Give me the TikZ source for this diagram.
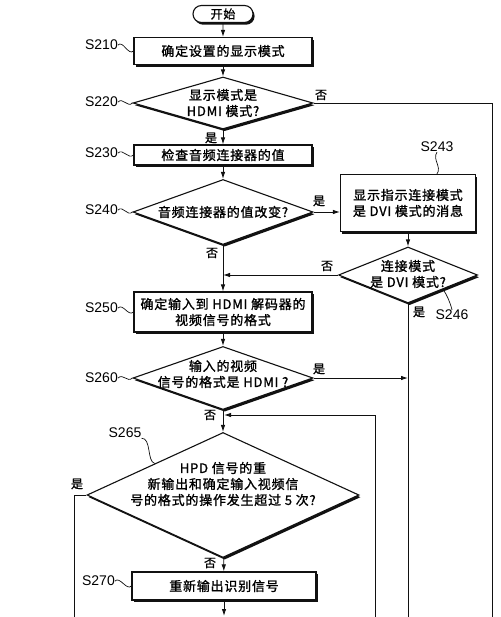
\documentclass[tikz,border=0pt]{standalone}
\usepackage{fontspec}
\setsansfont{Liberation Sans}
\newfontfamily\cjk{Noto Sans CJK SC}[LetterSpace=6, FakeBold=1.2]
\usepackage{tikz}
\usetikzlibrary{shapes.geometric,shapes.misc,arrows.meta,shadows}
\definecolor{ink}{HTML}{111111}
\definecolor{paper}{HTML}{FFFFFF}
\tikzset{
  shade/.style={drop shadow={shadow xshift=1.6pt, shadow yshift=-2.2pt, fill=ink, opacity=1}},
  box/.style={draw=ink, fill=paper, line width=1.1pt, shade, inner sep=0pt, align=center,
    font=\cjk\fontsize{13}{16}\selectfont},
  dia/.style={diamond, draw=ink, fill=paper, line width=1.1pt, shade, inner sep=0pt},
  dtext/.style={align=center, inner sep=0pt, font=\cjk\fontsize{13}{16}\selectfont},
  term/.style={rounded rectangle, draw=ink, fill=paper, line width=1.1pt, shade,
    minimum width=60pt, minimum height=17pt, inner sep=0pt, font=\cjk\fontsize{12}{14}\selectfont},
  flow/.style={draw=ink, line width=0.9pt},
  arr/.style={flow, -{Latex[length=7pt,width=4.5pt]}},
  yn/.style={inner sep=0pt, font=\cjk\fontsize{12}{14}\selectfont},
  steplab/.style={inner sep=0pt, font=\sffamily\fontsize{14}{14}\selectfont},
  squig/.style={draw=ink, line width=0.7pt}
}
\begin{document}
\begin{tikzpicture}[x=1pt, y=-1pt]
  \useasboundingbox[fill=paper] (0,0) rectangle (500,617);

  % main column
  \node[term] (start) at (223,14) {开始};
  \node[box, minimum width=178pt, minimum height=27pt] (s210) at (223,51) {确定设置的显示模式};
  \node[dia, minimum width=180pt, minimum height=52pt] (s220) at (223,103)
    {}; \node[dtext] (t220) at (s220) {显示模式是\\HDMI 模式?};
  \node[box, minimum width=178pt, minimum height=20pt] (s230) at (223,155) {检查音频连接器的值};
  \node[dia, minimum width=180pt, minimum height=65pt] (s240) at (223,212) {};
  \node[dtext] (t240) at (s240) {音频连接器的值改变?};
  \node[box, minimum width=178pt, minimum height=40pt] (s250) at (223,312)
    {确定输入到 HDMI 解码器的\\视频信号的格式};
  \node[dia, minimum width=180pt, minimum height=63pt] (s260) at (223,378) {};
  \node[dtext] (t260) at (223,374) {输入的视频\\信号的格式是 HDMI ?};
  \node[dia, minimum width=272pt, minimum height=125pt] (s265) at (223,495) {};
  \node[dtext] (t265) at (223,484) {HPD 信号的重\\新输出和确定输入视频信\\号的格式的操作发生超过 5 次?};
  \node[box, minimum width=184pt, minimum height=28pt] (s270) at (224,586) {重新输出识别信号};

  % right column
  \node[box, minimum width=135pt, minimum height=57pt] (s243) at (408,203)
    {显示指示连接模式\\是 DVI 模式的消息};
  \node[dia, minimum width=139pt, minimum height=56pt] (s246) at (408,275) {};
  \node[dtext] (t246) at (408,274) {连接模式\\是 DVI 模式?};

  % step labels
  \node[steplab, anchor=east] (l210) at (118,45) {S210};
  \node[steplab, anchor=east] (l220) at (118,102) {S220};
  \node[steplab, anchor=east] (l230) at (118,153) {S230};
  \node[steplab, anchor=east] (l240) at (118,210) {S240};
  \node[steplab, anchor=east] (l250) at (118,308) {S250};
  \node[steplab, anchor=east] (l260) at (118,378) {S260};
  \node[steplab, anchor=east] (l270) at (115,581) {S270};
  \node[steplab] (l243) at (437,147) {S243};
  \node[steplab] (l246) at (452,315) {S246};
  \node[steplab] (l265) at (125,433) {S265};

  \draw[squig] (l210.east) .. controls +(5,-5) and +(-5,5) .. (s210.west);
  \draw[squig] (l220.east) .. controls +(5,-5) and +(-5,5) .. (s220.west);
  \draw[squig] (l230.east) .. controls +(5,-5) and +(-5,5) .. (s230.west);
  \draw[squig] (l240.east) .. controls +(5,-5) and +(-5,5) .. (s240.west);
  \draw[squig] (l250.east) .. controls +(5,-5) and +(-5,5) .. (s250.west);
  \draw[squig] (l260.east) .. controls +(5,-5) and +(-5,5) .. (s260.west);
  \draw[squig] (l270.east) .. controls +(5,-5) and +(-5,5) .. (s270.west);
  \draw[squig] (l243.south) .. controls +(-5,7) and +(5,-7) .. (s243.north -| l243.south);
  \draw[squig] (l246.north) .. controls +(-2,-8) and +(4,6) .. (s246.south east);
  \draw[squig] (l265.south east) .. controls +(10,0) and +(-8,-2) .. (s265.north west);

  % free ends at the cut edge
  \coordinate (bR) at (492,617);
  \coordinate (bM) at (408,617);
  \coordinate (bL) at (375,617);
  \coordinate (bY) at (74,617);
  \coordinate (bZ) at (224,616);
  \coordinate (merge) at (224,415);

  % connectors
  \draw[arr] (start) -- (s210);
  \draw[arr] (s210) -- (s220);
  \draw[arr] (s220) -- (s230);
  \draw[arr] (s230) -- (s240);
  \draw[arr] (s240) -- (s250);
  \draw[arr] (s250) -- (s260);
  \draw[arr] (s260) -- (s265);
  \draw[arr] (s265) -- (s270);
  \draw[arr] (s270) -- (bZ);
  \draw[arr] (s240.east) -- (s240.east -| s243.west);
  \draw[arr] (s243) -- (s246);
  \draw[arr] (s246.west) -- (s246.west -| s240.south);
  \draw[arr] (s260.east) -- (s260.east -| s246.south);
  \draw[arr] (bL) |- (merge);
  \draw[flow] (s220.east) -| (bR);
  \draw[flow] (s246.south) -- (bM);
  \draw[flow] (s265.west) -| (bY);

  % yes / no
  \node[yn] (n220) at (321,95) {否};
  \node[yn] (y220) at (211,138) {是};
  \node[yn] (y240) at (319,201) {是};
  \node[yn] (n240) at (212,253) {否};
  \node[yn] (n246) at (327,266) {否};
  \node[yn] (y246) at (419,312) {是};
  \node[yn] (y260) at (319,369) {是};
  \node[yn] (n260) at (210,415) {否};
  \node[yn] (y265) at (77,484) {是};
  \node[yn] (n265) at (210,563) {否};
\end{tikzpicture}
\end{document}
